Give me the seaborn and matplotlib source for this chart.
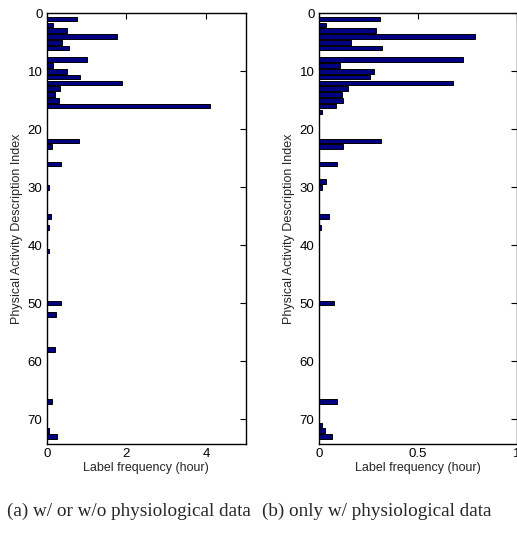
import matplotlib
matplotlib.use("Agg")
import matplotlib.pyplot as plt
import seaborn as sns

# activity index -> label frequency (hours)
idx_a = [1, 2, 3, 4, 5, 6, 8, 9, 10, 11, 12, 13, 14, 15, 16, 17,
         22, 23, 26, 29, 30, 35, 36, 37, 41, 50, 52, 53, 58, 67, 71, 72, 73]
freq_a = [0.75, 0.15, 0.52, 1.77, 0.38, 0.57, 1.0, 0.15, 0.51, 0.84, 1.9, 0.34, 0.2, 0.3, 4.1, 0.01,
          0.8, 0.14, 0.35, 0.02, 0.05, 0.12, 0.01, 0.07, 0.07, 0.35, 0.24, 0.01, 0.22, 0.13, 0.01, 0.05, 0.27]

idx_b = [1, 2, 3, 4, 5, 6, 8, 9, 10, 11, 12, 13, 14, 15, 16, 17,
         22, 23, 26, 29, 30, 35, 37, 50, 67, 71, 72, 73]
freq_b = [0.31, 0.037, 0.29, 0.79, 0.165, 0.32, 0.73, 0.11, 0.28, 0.26, 0.68, 0.15, 0.12, 0.125, 0.087, 0.017,
          0.315, 0.125, 0.09, 0.037, 0.017, 0.052, 0.01, 0.077, 0.093, 0.018, 0.03, 0.065]

xticks_a = [0, 2, 4]
xticks_b = [0, 0.5, 1]
yticks = [0, 10, 20, 30, 40, 50, 60, 70]

sns.set_theme(style="white")
plt.rcParams['font.family'] = ['Liberation Sans', 'DejaVu Sans']

W, H = 517, 537
fig = plt.figure(figsize=(W / 100, H / 100), dpi=100)
ax1 = fig.add_axes([46.7 / W, (H - 444) / H, (246 - 46.7) / W, (444 - 13.3) / H])
ax2 = fig.add_axes([318.7 / W, (H - 444) / H, (516.5 - 318.7) / W, (444 - 13.3) / H])

panels = [(ax1, idx_a, freq_a, xticks_a, (0, 5)),
          (ax2, idx_b, freq_b, xticks_b, (0, 1))]

for ax, idx, freq, xt, xl in panels:
    sns.barplot(x=freq, y=idx, orient='h', native_scale=True, width=0.8,
                color='#000080', saturation=1, edgecolor='black', linewidth=0.7, ax=ax)
    ax.set_ylim(74.3, 0)
    ax.set_xlim(*xl)
    ax.set_xticks(xt)
    ax.set_xticklabels([f'{t:g}' for t in xt])
    ax.set_yticks(yticks)
    ax.tick_params(direction='in', top=True, right=True, length=4, width=0.8,
                   labelsize=9.5, colors='black', pad=3)
    for s in ax.spines.values():
        s.set_color('black')
        s.set_linewidth(1.0)
    ax.set_xlabel('Label frequency (hour)', fontsize=9, labelpad=1)
    ax.set_ylabel('Physical Activity Description Index', fontsize=9, labelpad=3)

serif = ['Liberation Serif', 'DejaVu Serif']
fig.text(7 / W, 1 - 511 / H, '(a) w/ or w/o physiological data', ha='left', va='center',
         fontsize=13.8, family=serif)
fig.text(262 / W, 1 - 511 / H, '(b) only w/ physiological data', ha='left', va='center',
         fontsize=13.8, family=serif)

fig.savefig('out.png', dpi=100)
